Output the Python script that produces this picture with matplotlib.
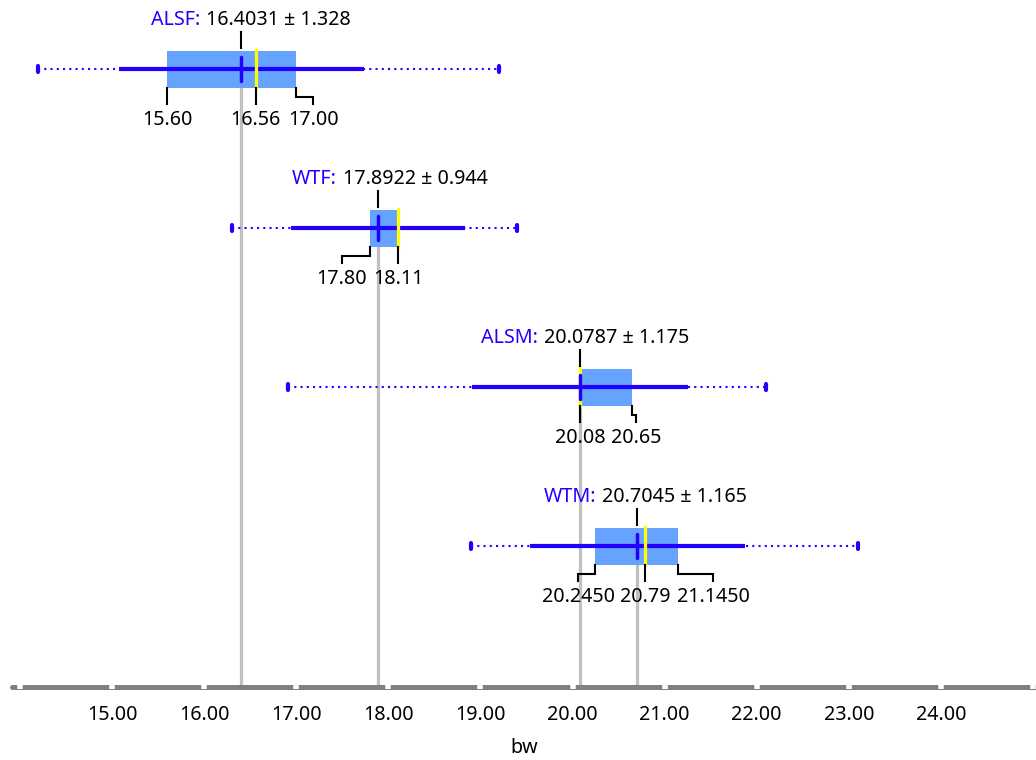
import matplotlib.pyplot as plt
import numpy as np

plt.rcParams['font.family'] = ['Noto Sans', 'DejaVu Sans']

# summary stats per group
groups = ['ALSF', 'WTF', 'ALSM', 'WTM']
means = [16.4031, 17.8922, 20.0787, 20.7045]
sds = [1.328, 0.944, 1.175, 1.165]
q1 = [15.60, 17.80, 20.08, 20.245]
medians = [16.56, 18.11, 20.08, 20.79]
q3 = [17.00, 18.11, 20.65, 21.145]
mins = [14.20, 16.30, 16.91, 18.90]
maxs = [19.20, 19.40, 22.10, 23.10]

# callout labels under each box
call_vals = [[15.60, 16.56, 17.00], [17.80, 18.11], [20.08, 20.65], [20.245, 20.79, 21.145]]
call_text = [['15.60', '16.56', '17.00'], ['17.80', '18.11'], ['20.08', '20.65'],
             ['20.2450', '20.79', '21.1450']]
call_shift = [[0, 0, 17], [-28, 0], [0, 4], [-17, 0, 35]]   # pixels, label layout

tick_values = list(range(14, 26))
tick_labels = ['' if v in (14, 25) else '%.2f' % v for v in tick_values]

BLUE = '#2200ff'
BOX = '#66a3ff'
GRAY = '#c0c0c0'
FS = 14.2

W, H = 1036, 760
fig = plt.figure(figsize=(W / 100, H / 100), dpi=100)
ax = fig.add_axes([12 / W, (H - 687) / H, 1024 / W, 687 / H])

ppu = 92.1       # pixels per x unit
row_px = 159     # pixels between rows
first = 69       # first row center, px from top
x0 = 15 - (112 - 12) / ppu
ax.set_xlim(x0, x0 + 1024 / ppu)
ax.set_ylim((687 - first) / row_px, -first / row_px)


def dx(p):
    return p / ppu


def dy(p):
    return p / row_px


bottom = ax.get_ylim()[0]

for i, g in enumerate(groups):
    y = i
    m, s = means[i], sds[i]
    # reference line from box down to axis
    ax.plot([m, m], [y + dy(19), bottom], color=GRAY, lw=2.3, zorder=1, clip_on=False)
    # min/max dotted range
    ax.plot([mins[i], maxs[i]], [y, y], color=BLUE, lw=1.5, ls=(0, (1, 2)), zorder=2)
    for e in (mins[i], maxs[i]):
        ax.plot([e, e], [y - dy(3), y + dy(3)], color=BLUE, lw=3, zorder=2,
                solid_capstyle='round')
    # box
    ax.fill_between([q1[i], q3[i]], y - dy(18.5), y + dy(18.5), color=BOX, lw=0, zorder=2)
    # mean +- sd
    ax.plot([m - s, m + s], [y, y], color=BLUE, lw=3, zorder=3, solid_capstyle='butt')
    # median
    ax.plot([medians[i]] * 2, [y - dy(19), y + dy(19)], color='#ffff00', lw=2.3, zorder=4)
    # mean marker
    ax.plot([m, m], [y - dy(12), y + dy(12)], color=BLUE, lw=2.5, zorder=5,
            solid_capstyle='round')

    # title above
    ax.plot([m, m], [y - dy(37), y - dy(21)], color='black', lw=1.5, zorder=5)
    val = ax.text(m + dx(37), y - dy(49), '%.4f ± %.3f' % (m, s), ha='center', va='center',
                  fontsize=FS, color='black')
    ax.annotate(g + ':', xy=(0, 0.5), xycoords=val, xytext=(-6, 0), textcoords='offset pixels',
                ha='right', va='center', fontsize=FS, color=BLUE)

    # callouts below
    for v, t, sh in zip(call_vals[i], call_text[i], call_shift[i]):
        if sh == 0:
            xs = [v, v]
            ys = [y + dy(19), y + dy(35)]
        else:
            xs = [v, v, v + dx(sh), v + dx(sh)]
            ys = [y + dy(19), y + dy(28), y + dy(28), y + dy(35)]
        ax.plot(xs, ys, color='black', lw=1.5, zorder=5, solid_joinstyle='miter')
        ax.text(v + dx(sh), y + dy(51), t, ha='center', va='center', fontsize=FS)

# axis styling
for side in ['top', 'left', 'right']:
    ax.spines[side].set_visible(False)
ax.spines['bottom'].set_color('#808080')
ax.spines['bottom'].set_linewidth(3.6)
ax.spines['bottom'].set_capstyle('round')
ax.spines['bottom'].set_zorder(1)
ax.set_yticks([])
ax.set_xticks(tick_values)
ax.set_xticklabels(tick_labels)
ax.tick_params(axis='x', direction='inout', length=2.2, width=4, color='white',
               pad=12, labelsize=FS)
ax.set_xlabel('bw', fontsize=FS, labelpad=9)

fig.savefig('out.png', dpi=100)
